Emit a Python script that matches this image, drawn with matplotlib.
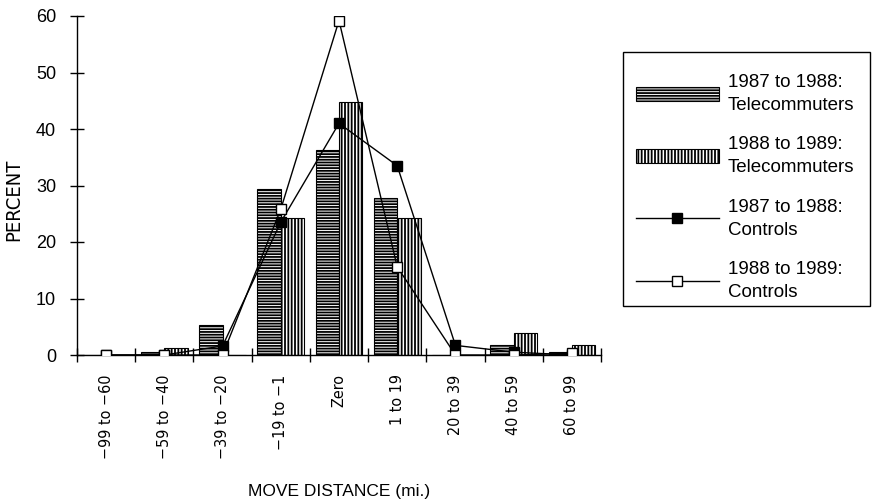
import matplotlib
matplotlib.use("Agg")
import matplotlib.pyplot as plt
from matplotlib.patches import Rectangle
import numpy as np

categories = ["\u221299 to \u221260", "\u221259 to \u221240", "\u221239 to \u221220", "\u221219 to \u22121",
              "Zero", "1 to 19", "20 to 39", "40 to 59", "60 to 99"]
tele_87_88 = [0.0, 0.5, 5.3, 29.4, 36.3, 27.8, 0.0, 1.8, 0.6]
tele_88_89 = [0.0, 1.3, 0.0, 24.2, 44.8, 24.2, 0.0, 3.9, 1.7]
ctrl_87_88 = [0.0, 0.0, 1.6, 23.5, 41.0, 33.5, 1.7, 0.5, 0.0]
ctrl_88_89 = [0.0, 0.0, 0.0, 25.8, 59.2, 15.6, 0.0, 0.0, 0.3]
y_ticks = [0, 10, 20, 30, 40, 50, 60]

plt.rcParams['hatch.linewidth'] = 1.3
sans = ['Liberation Sans', 'DejaVu Sans']

fig = plt.figure(figsize=(8.72, 5.04), dpi=100)
ax = fig.add_axes([77/872, 1-355/504, (601-77)/872, (355-16)/504])

x = np.arange(len(categories))
w = 0.4
b1 = ax.bar(x - w/2, tele_87_88, width=w, facecolor='white', edgecolor='black',
            hatch='------', linewidth=0.8, label='1987 to 1988:\nTelecommuters', zorder=2)
b2 = ax.bar(x + w/2, tele_88_89, width=w, facecolor='white', edgecolor='black',
            hatch='|||||', linewidth=0.8, label='1988 to 1989:\nTelecommuters', zorder=2)
l1, = ax.plot(x, ctrl_87_88, color='black', lw=1.0, marker='s', ms=6.5,
              mfc='black', mec='black', label='1987 to 1988:\nControls', zorder=3)
l2, = ax.plot(x, ctrl_88_89, color='black', lw=1.0, marker='s', ms=6.5,
              mfc='white', mec='black', label='1988 to 1989:\nControls', zorder=4)

ax.set_xlim(-0.5, len(categories) - 0.5)
ax.set_ylim(0, 60)
ax.set_yticks(y_ticks)
ax.set_yticklabels([str(v) for v in y_ticks], family=sans, fontsize=13)
ax.set_xticks(x)
ax.set_xticklabels(categories, rotation=90, family='DejaVu Sans', stretch='condensed', fontsize=11.5)
ax.set_xticks(np.arange(len(categories) + 1) - 0.5, minor=True)
ax.tick_params(axis='x', which='major', length=0, pad=14)
ax.tick_params(axis='x', which='minor', direction='inout', length=10, width=1)
ax.tick_params(axis='y', direction='inout', length=10, width=1, pad=10)

for s in ['top', 'right']:
    ax.spines[s].set_visible(False)
ax.spines['left'].set_linewidth(1.0)
ax.spines['bottom'].set_linewidth(1.0)

ax.set_ylabel('PERCENT', family='DejaVu Sans', stretch='condensed', fontsize=14.5)
ax.yaxis.set_label_coords(-0.103, 0.457)
ax.set_xlabel('MOVE DISTANCE (mi.)', family=sans, fontsize=12.5, labelpad=18)

leg = fig.legend(handles=[b1, b2, l1, l2], loc='upper left',
                 bbox_to_anchor=(636/872, 1-74/504), prop={'family': sans, 'size': 13.5},
                 frameon=False, handlelength=4.4,
                 handleheight=0.8, labelspacing=1.2, borderpad=0, handletextpad=0.5,
                 borderaxespad=0)
for t in leg.get_texts():
    t.set_linespacing(1.45)

fig.patches.append(Rectangle((623/872, 1-306/504), (870-623)/872, (306-52)/504,
                             transform=fig.transFigure, fill=False, edgecolor='black',
                             linewidth=1.0))

fig.savefig('out.png', dpi=100)
